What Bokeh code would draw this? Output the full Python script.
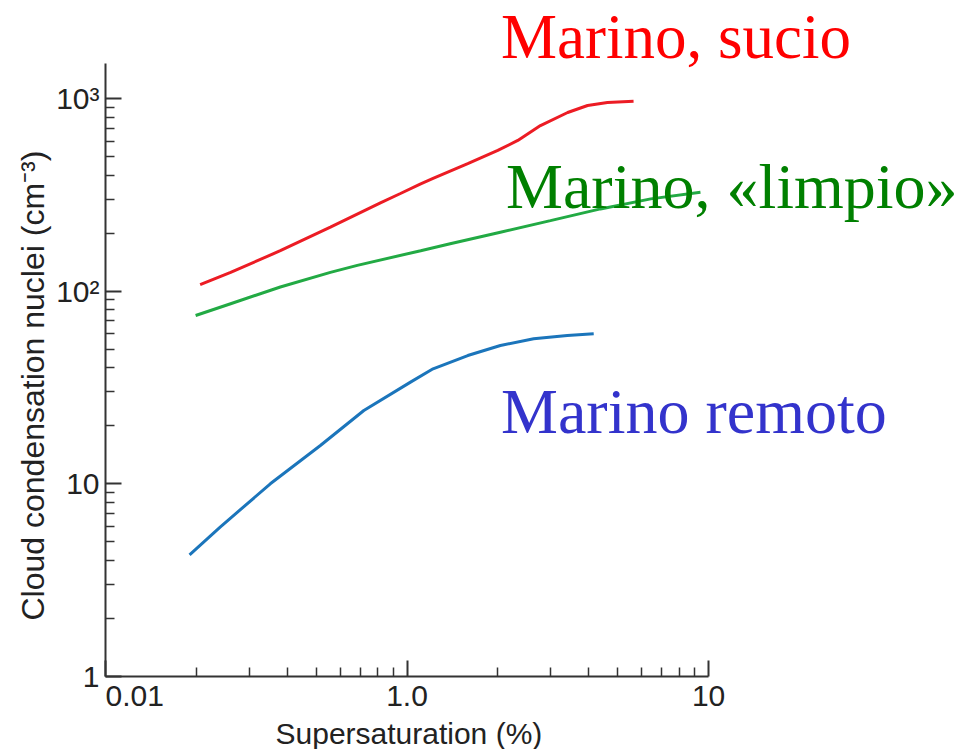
from bokeh.plotting import figure
from bokeh.models import Range1d, FixedTicker, Label, Title
from bokeh.embed import file_html
from bokeh.resources import INLINE

# ---- data ----
sucio_x = [0.206, 0.26, 0.38, 0.557, 0.816, 0.951, 1.11, 1.22, 1.59, 2.0, 2.33, 2.77, 3.41, 3.97, 4.62, 5.64]
sucio_y = [108, 125, 162, 215, 287, 321, 360, 384, 459, 537, 605, 723, 845, 919, 952, 967]

limpio_x = [0.199, 0.26, 0.38, 0.557, 0.684, 1.11, 1.39, 2.04, 2.99, 4.38, 6.43, 9.4]
limpio_y = [74.7, 86, 105, 125, 136, 162, 176, 202, 232, 267, 301, 326]

remoto_x = [0.19, 0.24, 0.352, 0.516, 0.719, 1.027, 1.22, 1.59, 2.04, 2.63, 3.40, 4.16]
remoto_y = [4.28, 5.96, 10.0, 15.8, 24.0, 33.7, 39.5, 46.3, 52.2, 56.6, 58.8, 60.0]

x_ticks = [0.1, 1.0, 10.0]
x_tick_labels = ["\u00a0" * 7 + "0.01", "1.0", "10"]
y_ticks = [1, 10, 100, 1000]
y_tick_labels = ["1", "10", "10\u00b2", "10\u00b3"]

x_title = "Supersaturation (%)"
y_title = "Cloud condensation nuclei (cm\u207b\u00b3)"

series_names = ["Marino, sucio", "Marino, \u00ablimpio\u00bb", "Marino remoto"]
series_line_colors = ["#ec1c24", "#22aa44", "#1b75bb"]
series_text_colors = ["#ff0000", "#008000", "#3333cc"]
label_pos_x = [2.05, 2.13, 2.05]
label_pos_y = [2094, 348, 23.7]
label_sizes = ["63px", "64px", "64px"]

p = figure(width=961, height=749, x_axis_type="log", y_axis_type="log",
           x_range=Range1d(0.1, 69.0), y_range=Range1d(1, 3221),
           output_backend="svg", toolbar_location=None,
           min_border_left=105, min_border_right=0,
           min_border_top=0, min_border_bottom=73)
p.outline_line_color = None
p.xgrid.visible = False
p.ygrid.visible = False
p.background_fill_color = "white"
p.border_fill_color = "white"

for xs, ys, c in zip([sucio_x, limpio_x, remoto_x], [sucio_y, limpio_y, remoto_y], series_line_colors):
    p.line(xs, ys, line_color=c, line_width=3)

minor_x = [0.2, 0.3, 0.4, 0.5, 0.6, 0.7, 0.8, 0.9, 2, 3, 4, 5, 6, 7, 8, 9]
minor_y = [2, 3, 4, 5, 6, 7, 8, 9, 20, 30, 40, 50, 60, 70, 80, 90,
           200, 300, 400, 500, 600, 700, 800, 900]
p.xaxis.ticker = FixedTicker(ticks=x_ticks, minor_ticks=minor_x)
p.yaxis.ticker = FixedTicker(ticks=y_ticks, minor_ticks=minor_y)
p.xaxis.major_label_overrides = {k: v for k, v in zip(x_ticks, x_tick_labels)}
p.yaxis.major_label_overrides = {float(k): v for k, v in zip(y_ticks, y_tick_labels)}
p.xaxis.bounds = (0.1, 10)
p.yaxis.bounds = (1, 1520)

for ax in (p.xaxis[0], p.yaxis[0]):
    ax.axis_line_color = "#333333"
    ax.axis_line_width = 2
    ax.major_tick_line_color = "#333333"
    ax.minor_tick_line_color = "#333333"
    ax.major_tick_line_width = 2
    ax.minor_tick_line_width = 1.5
    ax.major_tick_in = 16
    ax.major_tick_out = 0
    ax.minor_tick_in = 9
    ax.minor_tick_out = 0
    ax.major_label_text_font = "Liberation Sans"
    ax.major_label_text_font_size = "30px"
    ax.major_label_text_color = "#222222"

p.xaxis.major_label_standoff = 2
p.yaxis.major_label_standoff = 6

# axis titles placed as side titles so they line up with the drawn axis extent
p.add_layout(Title(text=x_title, align="left", offset=170, standoff=0,
                   text_font="Liberation Sans", text_font_size="30px",
                   text_font_style="normal", text_color="#222222"), "below")
p.add_layout(Title(text=y_title, align="left", offset=56, standoff=6,
                   text_font="Liberation Sans", text_font_size="32px",
                   text_font_style="normal", text_color="#222222"), "left")

for name, c, lx, ly, fs in zip(series_names, series_text_colors, label_pos_x, label_pos_y, label_sizes):
    p.add_layout(Label(x=lx, y=ly, text=name, text_font="Liberation Serif",
                       text_font_size=fs, text_color=c,
                       text_baseline="alphabetic", text_align="left"))

open("out.html", "w").write(file_html(p, INLINE))
